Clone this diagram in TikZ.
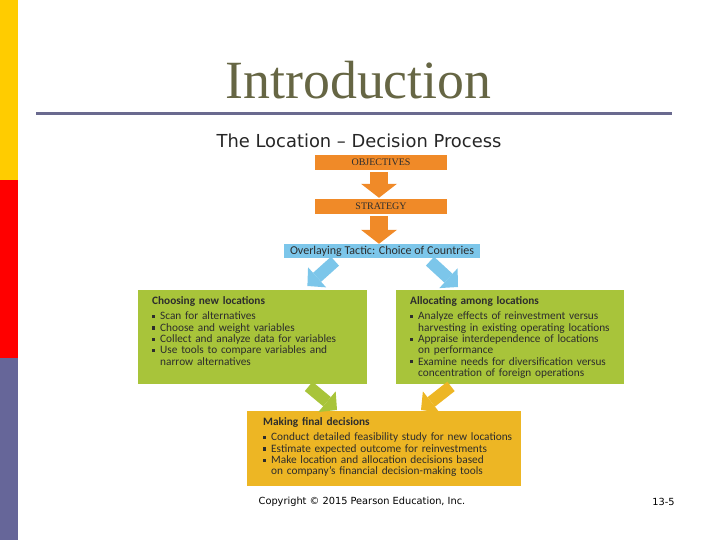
\documentclass[tikz,border=0pt]{standalone}
\usepackage{fontspec}
\setmainfont{Carlito}
\newfontfamily\titlefont{Liberation Serif}
\newfontfamily\verdfont{DejaVu Sans}
\usetikzlibrary{calc,arrows.meta}

\definecolor{barYellow}{RGB}{255,204,0}
\definecolor{barRed}{RGB}{255,0,0}
\definecolor{barSlate}{RGB}{102,102,153}
\definecolor{titleOlive}{RGB}{102,102,68}
\definecolor{ruleSlate}{RGB}{106,106,143}
\definecolor{stepOrange}{RGB}{240,138,40}
\definecolor{tacBlue}{RGB}{124,198,234}
\definecolor{panelGreen}{RGB}{168,196,58}
\definecolor{finalGold}{RGB}{237,182,36}
\definecolor{inkGray}{RGB}{45,45,45}

\newcommand\bitem[1]{\par\hangindent=8pt\hangafter=1\noindent
  \makebox[8pt][l]{\rule[1.7pt]{3.1pt}{3.1pt}}#1}

\begin{document}
\begin{tikzpicture}[x=1pt,y=-1pt,
  ribbon/.style={fill=stepOrange, minimum width=132pt, minimum height=15pt,
    inner sep=0pt, text=inkGray, font=\titlefont\fontsize{10}{10}\selectfont},
  fatarrow/.style={draw=#1, line width=18pt,
    -{Triangle[width=36pt,length=14pt,line width=0pt]}},
  slimarrow/.style={draw=#1, line width=12pt,
    -{Triangle[width=27pt,length=13pt,line width=0pt]}},
  panel/.style={fill=#1, anchor=north west, inner sep=0pt},
  paneltext/.style={anchor=north west, inner sep=0pt, text width=260pt,
    align=left, text=inkGray, font=\fontsize{11.3}{11.3}\selectfont}]
  \useasboundingbox (0,0) rectangle (720,540);

  % side bar
  \fill[barYellow] (0,0) rectangle (18,180);
  \fill[barRed] (0,180) rectangle (18,358);
  \fill[barSlate] (0,358) rectangle (18,540);

  % heading
  \node[font=\titlefont\fontsize{53.8}{60}\selectfont, text=titleOlive] (title) at (358.5,80) {Introduction};
  \draw[ruleSlate, line width=3pt] (36,114) -- (672,114);
  \node[font=\verdfont\fontsize{17.9}{20}\selectfont, text=black!85] (subtitle) at (359,141) {The Location – Decision Process};

  % top of the process
  \node[ribbon] (obj) at (381,162.5) {OBJECTIVES};
  \node[ribbon] (strat) at (381,206.5) {STRATEGY};
  \node[fill=tacBlue, minimum width=196pt, minimum height=14pt, inner sep=0pt,
    text=inkGray, font=\fontsize{12}{12}\selectfont] (tac) at (382,251) {Overlaying Tactic: Choice of Countries};
  \draw[fatarrow=stepOrange, shorten <=2pt, shorten >=1pt] ([xshift=-2pt]obj.south) -- ([xshift=-2pt]strat.north);
  \draw[fatarrow=stepOrange, shorten <=2pt, shorten >=0pt] ([xshift=-2pt]strat.south) -- ([xshift=-3pt]tac.north);

  % the two panels
  \node[panel=panelGreen, minimum width=229pt, minimum height=94pt] (choose) at (138,290) {};
  \node[panel=panelGreen, minimum width=228pt, minimum height=94pt] (alloc) at (396,290) {};
  \node[paneltext] (chooseText) at ($(choose.north west)+(14,6)$) {%
    \textbf{Choosing new locations}\par\vspace{4.5pt}
    \bitem{Scan for alternatives}
    \bitem{Choose and weight variables}
    \bitem{Collect and analyze data for variables}
    \bitem{Use tools to compare variables and\newline narrow alternatives}\par};
  \node[paneltext] (allocText) at ($(alloc.north west)+(14,6)$) {%
    \textbf{Allocating among locations}\par\vspace{4.5pt}
    \bitem{Analyze effects of reinvestment versus\newline harvesting in existing operating locations}
    \bitem{Appraise interdependence of locations\newline on performance}
    \bitem{Examine needs for diversification versus\newline concentration of foreign operations}\par};
  \draw[slimarrow=tacBlue] ($(tac.south)+(-47,3)$) -- ($(choose.north east)+(-60,-4)$);
  \draw[slimarrow=tacBlue] ($(tac.south)+(48,3)$) -- ($(alloc.north west)+(62,-3)$);

  % final decisions
  \node[panel=finalGold, minimum width=274pt, minimum height=75pt] (final) at (247,411) {};
  \node[paneltext] (finalText) at ($(final.north west)+(16,6.5)$) {%
    \textbf{Making final decisions}\par\vspace{4pt}
    \bitem{Conduct detailed feasibility study for new locations}
    \bitem{Estimate expected outcome for reinvestments}
    \bitem{Make location and allocation decisions based\newline on company’s financial decision-making tools}\par};
  \draw[slimarrow=panelGreen] ($(choose.south)+(56,2)$) -- ($(final.north west)+(90,-1)$);
  \draw[slimarrow=finalGold] ($(alloc.south west)+(55,2)$) -- ($(final.north west)+(174,-1)$);

  % footer
  \node[font=\verdfont\fontsize{9.8}{11}\selectfont] (copy) at (362,502) {Copyright © 2015 Pearson Education, Inc.};
  \node[font=\verdfont\fontsize{9.8}{11}\selectfont] (page) at (663.5,502) {13-5};
\end{tikzpicture}
\end{document}
